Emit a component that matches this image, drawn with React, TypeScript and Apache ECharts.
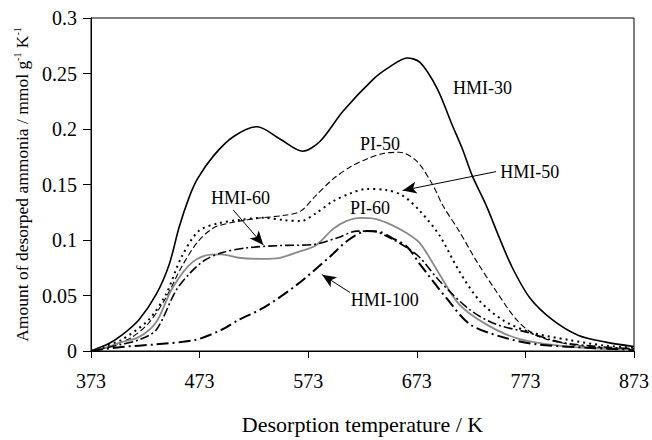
import React, { useEffect, useRef } from "react";
import * as echarts from "echarts";

const FONT = "'Liberation Serif', 'Times New Roman', serif";

// [temperature K, amount mmol/g/K]
const hmi30: [number, number][] = [
  [373, 0], [378, 0.002], [390, 0.007], [401, 0.014], [417, 0.028], [433, 0.051], [445, 0.078],
  [454, 0.111], [463, 0.1375], [471, 0.155], [486, 0.176], [504, 0.193], [526, 0.202], [547, 0.191],
  [568, 0.18], [584, 0.189], [605, 0.216], [633, 0.245], [648, 0.256], [664, 0.264], [676, 0.26],
  [692, 0.236], [705, 0.205], [715, 0.182], [724, 0.158], [737, 0.131], [749, 0.102], [761, 0.075],
  [777, 0.048], [798, 0.028], [822, 0.014], [847, 0.008], [873, 0.004],
];
const pi50: [number, number][] = [
  [373, 0], [390, 0.004], [410, 0.012], [426, 0.025], [442, 0.048], [456, 0.075], [471, 0.098],
  [486, 0.111], [504, 0.116], [530, 0.12], [550, 0.122], [566, 0.126], [580, 0.14], [596, 0.155],
  [612, 0.166], [627, 0.173], [642, 0.178], [657, 0.179], [673, 0.171], [688, 0.149], [697, 0.131],
  [712, 0.108], [728, 0.081], [746, 0.054], [765, 0.028], [783, 0.014], [813, 0.006], [845, 0.003],
  [873, 0.002],
];
const hmi50: [number, number][] = [
  [373, 0], [385, 0.004], [401, 0.01], [426, 0.028], [442, 0.051], [456, 0.084], [472, 0.108],
  [490, 0.115], [509, 0.118], [532, 0.12], [550, 0.118], [566, 0.117], [580, 0.124], [596, 0.135],
  [612, 0.142], [627, 0.146], [645, 0.145], [660, 0.14], [676, 0.126], [694, 0.104], [712, 0.072],
  [731, 0.045], [752, 0.028], [777, 0.017], [813, 0.01], [845, 0.005], [873, 0.003],
];
const pi60: [number, number][] = [
  [373, 0], [390, 0.004], [401, 0.008], [417, 0.0125], [433, 0.026], [447, 0.055], [463, 0.077],
  [478, 0.086], [493, 0.087], [509, 0.084], [530, 0.083], [547, 0.084], [566, 0.09], [580, 0.095],
  [596, 0.11], [608, 0.117], [621, 0.12], [635, 0.119], [651, 0.113], [664, 0.106], [676, 0.097],
  [694, 0.069], [712, 0.042], [737, 0.024], [767, 0.011], [813, 0.004], [873, 0.001],
];
const hmi60: [number, number][] = [
  [373, 0], [401, 0.006], [417, 0.01], [433, 0.019], [451, 0.054], [463, 0.069], [478, 0.082],
  [495, 0.089], [517, 0.093], [547, 0.095], [578, 0.096], [600, 0.102], [618, 0.108], [633, 0.108],
  [648, 0.102], [664, 0.093], [676, 0.084], [694, 0.063], [722, 0.037], [746, 0.024], [774, 0.017],
  [805, 0.008], [840, 0.004], [873, 0.002],
];
const hmi100: [number, number][] = [
  [373, 0], [401, 0.0036], [433, 0.006], [469, 0.01], [493, 0.019], [509, 0.028], [532, 0.039],
  [563, 0.06], [593, 0.085], [610, 0.1], [627, 0.108], [640, 0.107], [650, 0.102], [664, 0.094],
  [676, 0.078], [700, 0.048], [722, 0.024], [752, 0.0125], [783, 0.006], [830, 0.003], [873, 0.001],
];

const labelTexts = ["HMI-30", "PI-50", "HMI-50", "HMI-60", "PI-60", "HMI-100"];
const labelX = [733.5, 639, 777, 510.6, 630, 643.6];
const labelY = [0.2366, 0.1866, 0.1616, 0.1375, 0.1286, 0.0455];

// arrows: [fromX, fromY, toX, toY]
const arrows: [number, number, number, number][] = [
  [746, 0.1616, 660, 0.1446],
  [504, 0.127, 531.7, 0.0955],
  [611.5, 0.0527, 585.8, 0.0688],
];

export default function App() {
  const ref = useRef<HTMLDivElement>(null);
  useEffect(() => {
    if (!ref.current) return;
    const chart = echarts.init(ref.current, undefined, { renderer: "svg" });
    const mk = (name: string, data: [number, number][], color: string, width: number, type: any, extra: any = {}) => ({
      name,
      type: "line",
      data,
      showSymbol: false,
      smooth: 0.3,
      silent: true,
      lineStyle: { color, width, type },
      z: 3,
      ...extra,
    });
    chart.setOption({
      animation: false,
      grid: { left: 91, right: 17, top: 18, bottom: 87, show: true, borderColor: "#000", borderWidth: 1 },
      xAxis: {
        type: "value",
        min: 373,
        max: 873,
        interval: 100,
        name: "Desorption temperature / K",
        nameLocation: "middle",
        nameGap: 62,
        nameTextStyle: { fontFamily: FONT, fontSize: 22, color: "#000" },
        axisLine: { lineStyle: { color: "#000", width: 1 } },
        axisTick: { length: 7, lineStyle: { color: "#000" } },
        axisLabel: { fontFamily: FONT, fontSize: 20, color: "#000", margin: 20 },
        splitLine: { show: false },
      },
      yAxis: {
        type: "value",
        min: 0,
        max: 0.3,
        interval: 0.05,
        name: "{a|Amount of desorped ammonia / mmol g}{s|-1}{a| K}{s|-1}",
        nameLocation: "middle",
        nameRotate: 90,
        nameGap: 52,
        nameTextStyle: {
          rich: {
            a: { fontFamily: FONT, fontSize: 17.5, color: "#000", lineHeight: 20 },
            s: { fontFamily: FONT, fontSize: 10, color: "#000", lineHeight: 20, verticalAlign: "top" },
          },
        },
        axisLine: { show: true, lineStyle: { color: "#000", width: 1 } },
        axisTick: { show: true, length: 8, lineStyle: { color: "#000" } },
        axisLabel: { fontFamily: FONT, fontSize: 20, color: "#000", margin: 14 },
        splitLine: { show: false },
      },
      series: [
        mk("HMI-30", hmi30, "#000", 1.6, "solid", {
          markLine: {
            silent: true,
            symbol: ["none", "arrow"],
            symbolSize: [9, 14],
            label: { show: false },
            lineStyle: { color: "#000", width: 1, type: "solid" },
            data: arrows.map((a) => [{ coord: [a[0], a[1]] }, { coord: [a[2], a[3]] }]),
          },
        }),
        mk("PI-50", pi50, "#000", 1.1, [6, 3]),
        mk("HMI-50", hmi50, "#000", 2, [2, 4]),
        mk("PI-60", pi60, "#8a8a8a", 1.8, "solid"),
        mk("HMI-60", hmi60, "#000", 1.6, [9, 3, 2, 3]),
        mk("HMI-100", hmi100, "#000", 2, [12, 4, 2, 4]),
      ],
    });
    const g = labelTexts.map((t, i) => {
      const p = chart.convertToPixel({ gridIndex: 0 }, [labelX[i], labelY[i]]) as number[];
      return {
        type: "text",
        x: p[0],
        y: p[1],
        z: 10,
        style: { text: t, fontFamily: FONT, fontSize: 18, fill: "#000", align: "center", verticalAlign: "middle" },
      };
    });
    chart.setOption({ graphic: g });
    return () => chart.dispose();
  }, []);
  return <div ref={ref} style={{ position: "absolute", left: 0, top: 0, width: 652, height: 440 }} />;
}
